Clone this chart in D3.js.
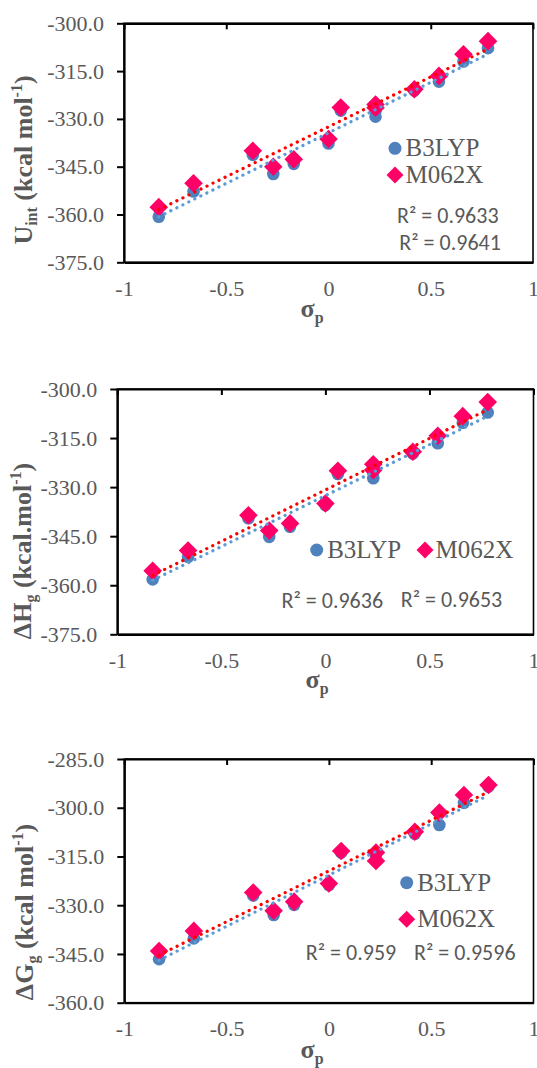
<!DOCTYPE html>
<html><head><meta charset="utf-8">
<script src="https://cdn.jsdelivr.net/npm/d3@7"></script>
<style>body{margin:0;background:#fff} svg{display:block}</style>
</head><body>
<svg id="c" width="537" height="1068"></svg>
<script>
// ---------- data ----------
const sigma = [-0.83, -0.66, -0.37, -0.27, -0.17, 0, 0.06, 0.23, 0.23, 0.42, 0.54, 0.66, 0.78];
const uB3LYP = [-360.7, -352.8, -341.3, -347.3, -344.1, -337.7, -327.4, -329.3, -327.5, -321.1, -318.3, -312.0, -307.8];
const uM062X = [-357.7, -350.2, -340.0, -345.0, -342.7, -336.3, -326.4, -326.5, -325.5, -320.7, -316.5, -309.7, -305.6];
const hB3LYP = [-358.2, -351.3, -339.5, -345.2, -342.1, -335.5, -326.0, -327.3, -325.5, -319.7, -316.6, -310.3, -307.2];
const hM062X = [-355.6, -349.4, -338.6, -343.3, -341.1, -335.0, -325.0, -324.8, -323.0, -319.2, -314.3, -308.3, -304.0];
const gB3LYP = [-346.6, -340.2, -327.0, -333.0, -329.9, -323.8, -313.8, -316.0, -314.5, -308.0, -305.3, -298.5, -293.5];
const gM062X = [-344.1, -337.9, -326.1, -331.7, -328.9, -323.3, -313.3, -316.4, -313.8, -307.4, -301.5, -296.1, -293.0];

const xTicks = [-1, -0.5, 0, 0.5, 1];
const uTicks = [-375, -360, -345, -330, -315, -300];
const hTicks = [-375, -360, -345, -330, -315, -300];
const gTicks = [-360, -345, -330, -315, -300, -285];

const seriesNames = ["B3LYP", "M062X"];
const uR2 = ["R² = 0.9633", "R² = 0.9641"];
const hR2 = ["R² = 0.9636", "R² = 0.9653"];
const gR2 = ["R² = 0.959", "R² = 0.9596"];

const uTitle = [["U", 0], ["int", 1], [" (kcal mol", 0], ["-1", -1], [")", 0]];
const hTitle = [["ΔH", 0], ["g", 1], [" (kcal.mol", 0], ["-1", -1], [")", 0]];
const gTitle = [["ΔG", 0], ["g", 1], [" (kcal mol", 0], ["-1", -1], [")", 0]];

// ---------- layout ----------
const layout = [
  {b: uB3LYP, m: uM062X, ticks: uTicks, r2: uR2, title: uTitle,
   x0: 124, x1: 533, y0: 23.3, y1: 262.3, gap: 13,
   tx: 32, ty: 160, sx: 312, sy: 317,
   leg: [[395, 148.3], [395, 175]], r2pos: [[397, 223.3], [399.3, 250]]},
  {b: hB3LYP, m: hM062X, ticks: hTicks, r2: hR2, title: hTitle,
   x0: 117.3, x1: 533.5, y0: 389, y1: 634.3, gap: 13,
   tx: 31, ty: 551, sx: 317, sy: 688,
   leg: [[316.7, 550], [425, 550]], r2pos: [[281.5, 607.5], [400.7, 607]]},
  {b: gB3LYP, m: gM062X, ticks: gTicks, r2: gR2, title: gTitle,
   x0: 124.3, x1: 533.5, y0: 759, y1: 1002.7, gap: 13,
   tx: 33, ty: 912, sx: 312, sy: 1058,
   leg: [[406.7, 882.7], [406.7, 919.3]], r2pos: [[305.8, 960], [414, 960]]}
];

const BLUE = "#4F81BD", PINK = "#FF0066", TBLUE = "#5B9BD5", TRED = "#FF0000", GRAY = "#595959";

// pick first installed font from a list
function pickFont(list) {
  const ctx = document.createElement("canvas").getContext("2d");
  const sample = "B3LYP -300.0 kcal mol WMiil";
  const bases = ["monospace", "sans-serif"];
  for (const f of list) {
    const hit = bases.some(b => {
      ctx.font = `40px ${b}`; const w0 = ctx.measureText(sample).width;
      ctx.font = `40px "${f}", ${b}`; const w1 = ctx.measureText(sample).width;
      return Math.abs(w1 - w0) > 0.5;
    });
    if (hit) return `"${f}"`;
  }
  return "serif";
}
const SERIF = pickFont(["Liberation Serif", "Times New Roman", "Tinos", "Noto Serif", "DejaVu Serif"]);
const SANS = pickFont(["Carlito", "Calibri", "Lato", "Liberation Sans"]);
const diamond = s => `M0,${-s}L${s},0L0,${s}L${-s},0Z`;

const svg = d3.select("#c");
svg.append("rect").attr("width", 537).attr("height", 1068).attr("fill", "#fff");

function fit(xs, ys) {
  const mx = d3.mean(xs), my = d3.mean(ys);
  let sxy = 0, sxx = 0;
  xs.forEach((x, i) => { sxy += (x - mx) * (ys[i] - my); sxx += (x - mx) ** 2; });
  const k = sxy / sxx;
  return x => my + k * (x - mx);
}

function font(sel, fam, size, weight) {
  sel.attr("font-family", fam).style("font-family", fam)
     .attr("font-size", size).style("font-size", size + "px");
  if (weight) sel.attr("font-weight", weight).style("font-weight", weight);
  return sel;
}

layout.forEach(p => {
  const x = d3.scaleLinear().domain([-1, 1]).range([p.x0, p.x1]);
  const y = d3.scaleLinear().domain([d3.min(p.ticks), d3.max(p.ticks)]).range([p.y1, p.y0]);
  const g = svg.append("g");

  g.append("rect").attr("x", p.x0).attr("y", p.y0).attr("width", p.x1 - p.x0).attr("height", p.y1 - p.y0)
    .attr("fill", "none").attr("stroke", "#000").attr("stroke-width", 1.6);

  const ya = g.append("g").attr("transform", `translate(${p.x0},0)`)
    .call(d3.axisLeft(y).tickValues(p.ticks).tickSize(7).tickSizeOuter(0).tickPadding(p.gap)
      .tickFormat(d => d.toFixed(1)));
  font(ya, SERIF, 22);
  ya.select(".domain").attr("stroke", "#000").attr("stroke-width", 2.2);
  ya.selectAll(".tick line").attr("stroke", "#000").attr("stroke-width", 2);
  font(ya.selectAll(".tick text").attr("fill", GRAY), SERIF, 22);

  const xa = g.append("g").attr("transform", `translate(0,${p.y1})`)
    .call(d3.axisBottom(x).tickValues(xTicks).tickSize(0).tickSizeOuter(0).tickPadding(18)
      .tickFormat(d => String(d)));
  font(xa, SERIF, 22);
  xa.select(".domain").attr("stroke", "#000").attr("stroke-width", 2.2);
  font(xa.selectAll(".tick text").attr("fill", GRAY), SERIF, 22);

  const ta = g.append("g").attr("transform", `translate(0,${p.y0})`)
    .call(d3.axisTop(x).tickValues(xTicks).tickSize(-6).tickSizeOuter(0).tickFormat(""));
  ta.select(".domain").attr("stroke", "#000").attr("stroke-width", 2.2);
  ta.selectAll(".tick line").attr("stroke", "#000").attr("stroke-width", 2);

  g.selectAll(".cb").data(sigma).join("circle")
    .attr("cx", d => x(d)).attr("cy", (d, i) => y(p.b[i])).attr("r", 6.3).attr("fill", BLUE);
  g.selectAll(".dm").data(sigma).join("path")
    .attr("d", diamond(9.3)).attr("transform", (d, i) => `translate(${x(d)},${y(p.m[i])})`).attr("fill", PINK);

  const xr = d3.extent(sigma);
  [[p.b, TBLUE], [p.m, TRED]].forEach(([vals, col]) => {
    const f = fit(sigma, vals);
    g.append("line").attr("x1", x(xr[0])).attr("y1", y(f(xr[0])))
      .attr("x2", x(xr[1])).attr("y2", y(f(xr[1])))
      .attr("stroke", col).attr("stroke-width", 3.2).attr("stroke-linecap", "round")
      .attr("stroke-dasharray", "0.1 6.6");
  });

  const [l1, l2] = p.leg;
  g.append("circle").attr("cx", l1[0]).attr("cy", l1[1]).attr("r", 6.5).attr("fill", BLUE);
  g.append("path").attr("d", diamond(8.5)).attr("transform", `translate(${l2[0]},${l2[1]})`).attr("fill", PINK);
  [l1, l2].forEach((l, i) => {
    font(g.append("text").attr("x", l[0] + 10.5).attr("y", l[1] + 8).text(seriesNames[i])
      .attr("fill", GRAY), SERIF, 25);
  });

  p.r2pos.forEach((pos, i) => {
    font(g.append("text").attr("x", pos[0]).attr("y", pos[1]).text(p.r2[i])
      .attr("fill", GRAY), SANS, 22);
  });

  const t = g.append("text").attr("transform", `translate(${p.tx},${p.ty}) rotate(-90)`)
    .attr("text-anchor", "middle").attr("fill", GRAY);
  font(t, SERIF, 26, "bold");
  let cur = 0;
  p.title.forEach(([s, lvl]) => {
    const off = lvl === 1 ? 5 : lvl === -1 ? -10 : 0;
    const ts = t.append("tspan").text(s).attr("dy", off - cur);
    font(ts, SERIF, lvl ? 16 : 26, "bold");
    cur = off;
  });

  const xt = g.append("text").attr("x", p.sx).attr("y", p.sy).attr("text-anchor", "middle").attr("fill", GRAY);
  font(xt, SERIF, 26, "bold");
  font(xt.append("tspan").text("σ"), SERIF, 26, "bold");
  font(xt.append("tspan").text("p").attr("dy", 6), SERIF, 16, "bold");
});
</script>
</body></html>
